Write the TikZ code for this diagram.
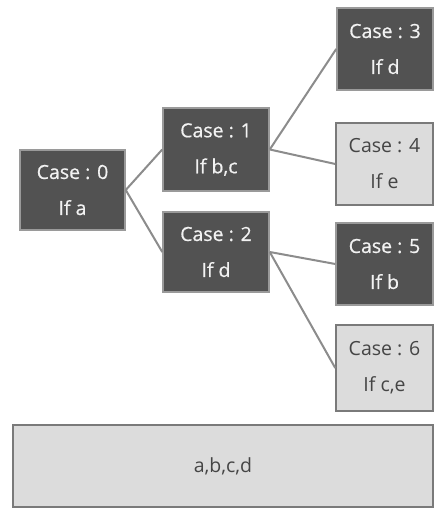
\documentclass[tikz,border=0pt]{standalone}
\usepackage{fontspec}
\setmainfont{Open Sans}
\newfontfamily\heavyfont{Open Sans}[FakeBold=0.6]
\definecolor{darkfill}{HTML}{525252}
\definecolor{darkborder}{HTML}{9A9A9A}
\definecolor{lightfill}{HTML}{DCDCDC}
\definecolor{lightborder}{HTML}{7A7A7A}
\definecolor{linegray}{HTML}{8C8C8C}
\definecolor{darktext}{HTML}{F2F2F2}
\definecolor{lighttext}{HTML}{454545}
\begin{document}
\begin{tikzpicture}[x=1pt,y=1pt,
  darkbox/.style={draw=darkborder, line width=1.5pt, fill=darkfill, text=darktext, align=center,
    inner sep=0pt, font=\heavyfont\fontsize{19.5}{36}\selectfont},
  lightbox/.style={draw=lightborder, line width=1.5pt, fill=lightfill, text=lighttext, align=center,
    inner sep=0pt, font=\fontsize{19.5}{36}\selectfont},
  conn/.style={draw=linegray, line width=2pt}]
\useasboundingbox (0,0) rectangle (435,508);
\fill[white] (0,0) rectangle (435,508);
\node[darkbox, minimum width=105, minimum height=80] (c0) at (72.5,318) {Case : 0\\If a};
\node[darkbox, minimum width=106, minimum height=83] (c1) at (216,358.5) {Case : 1\\If b,c};
\node[darkbox, minimum width=106, minimum height=80] (c2) at (216,256) {Case : 2\\If d};
\node[darkbox, minimum width=96, minimum height=82] (c3) at (385,459) {Case : 3\\If d};
\node[lightbox, minimum width=97, minimum height=82] (c4) at (384.5,344) {Case : 4\\If e};
\node[darkbox, minimum width=97, minimum height=82] (c5) at (384.5,244) {Case : 5\\If b};
\node[lightbox, minimum width=97, minimum height=86] (c6) at (384.5,140) {Case : 6\\If c,e};
\node[lightbox, minimum width=420, minimum height=82, font=\fontsize{19.5}{22}\selectfont] (base) at (223,42) {a,b,c,d};
\draw[conn] (c0.east) -- (c1.west);
\draw[conn] (c0.east) -- (c2.west);
\draw[conn] (c1.east) -- (c3.west);
\draw[conn] (c1.east) -- (c4.west);
\draw[conn] (c2.east) -- (c5.west);
\draw[conn] (c2.east) -- (c6.west);
\end{tikzpicture}
\end{document}
